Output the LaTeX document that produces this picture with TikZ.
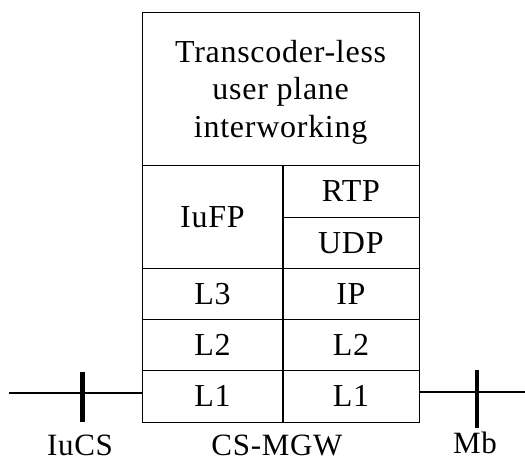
\documentclass[tikz,border=0pt]{standalone}
\usepackage{fontspec}
\setmainfont{Liberation Serif}[LetterSpace=2.3]
\begin{document}
\begin{tikzpicture}[x=1pt,y=-1pt,
  cell/.style={draw,line width=1.3pt,anchor=north west,inner sep=0pt,font=\fontsize{32}{37.5}\selectfont,align=center},
  txt/.style={inner sep=0pt,font=\fontsize{32}{37.5}\selectfont,align=center},
  lab/.style={font=\fontsize{31}{36}\selectfont,anchor=base,inner sep=0pt},
  conn/.style={line width=1.3pt},
  tick/.style={line width=4.5pt}]
\useasboundingbox (0,0) rectangle (525,461);
\node[cell,minimum width=277pt,minimum height=153pt] (top) at (141.5,12) {};
\node[txt] (toptext) at ([yshift=-3pt]top.center) {Transcoder-less\\user plane\\interworking};
\node[cell,minimum width=140.5pt,minimum height=103pt] (iufp) at (141.5,165) {IuFP};
\node[cell,minimum width=136.5pt,minimum height=51.5pt] (rtp) at (282,165) {RTP};
\node[cell,minimum width=136.5pt,minimum height=51.5pt] (udp) at (282,216.5) {UDP};
\node[cell,minimum width=140.5pt,minimum height=51pt] (l3) at (141.5,268) {L3};
\node[cell,minimum width=136.5pt,minimum height=51pt] (ip) at (282,268) {IP};
\node[cell,minimum width=140.5pt,minimum height=51pt] (l2a) at (141.5,319) {L2};
\node[cell,minimum width=136.5pt,minimum height=51pt] (l2b) at (282,319) {L2};
\node[cell,minimum width=140.5pt,minimum height=51.5pt] (l1a) at (141.5,370) {L1};
\node[cell,minimum width=136.5pt,minimum height=51.5pt] (l1b) at (282,370) {L1};
\draw[line width=2pt] (iufp.north east) -- (l1a.south east);
\coordinate (lstart) at (9,393);
\coordinate (rend) at (525,392);
\draw[conn] (lstart) -- (l1a.west |- lstart);
\draw[conn] (l1b.east |- rend) -- (rend);
\coordinate (ltA) at (82.5,372);
\coordinate (ltB) at (82.5,422);
\coordinate (rtA) at (477,370);
\coordinate (rtB) at (477,428);
\draw[tick] (ltA) -- (ltB);
\draw[tick] (rtA) -- (rtB);
\node[lab] (iucs) at (80,455) {IuCS};
\node[lab] (mgw) at (277,455.5) {CS-MGW};
\node[lab] (mb) at (475,453) {Mb};
\end{tikzpicture}
\end{document}
